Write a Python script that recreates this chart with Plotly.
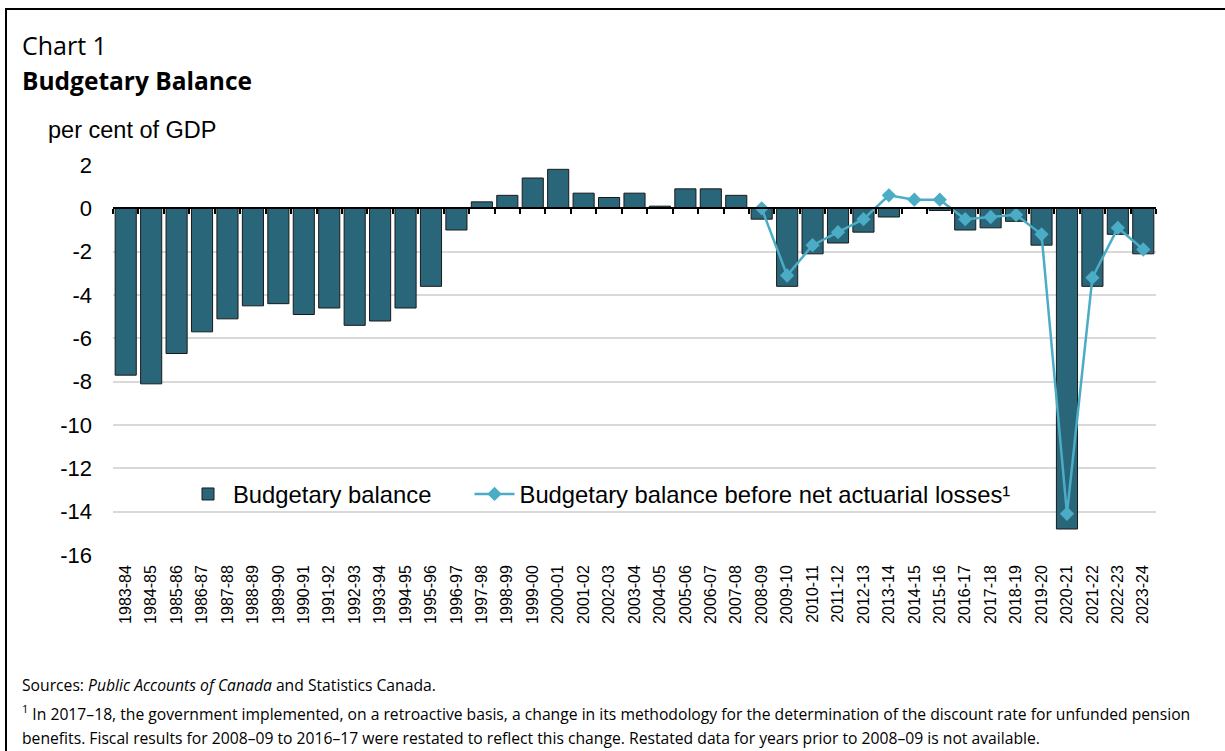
import plotly.graph_objects as go

W, H = 1225, 751
L, R, T, B = 113, 1156, 165, 555  # plot area in reference pixels

years = ["1983-84", "1984-85", "1985-86", "1986-87", "1987-88", "1988-89", "1989-90",
         "1990-91", "1991-92", "1992-93", "1993-94", "1994-95", "1995-96", "1996-97",
         "1997-98", "1998-99", "1999-00", "2000-01", "2001-02", "2002-03", "2003-04",
         "2004-05", "2005-06", "2006-07", "2007-08", "2008-09", "2009-10", "2010-11",
         "2011-12", "2012-13", "2013-14", "2014-15", "2015-16", "2016-17", "2017-18",
         "2018-19", "2019-20", "2020-21", "2021-22", "2022-23", "2023-24"]

budgetary_balance = [-7.7, -8.1, -6.7, -5.7, -5.1, -4.5, -4.4,
                     -4.9, -4.6, -5.4, -5.2, -4.6, -3.6, -1.0,
                     0.3, 0.6, 1.4, 1.8, 0.7, 0.5, 0.7,
                     0.1, 0.9, 0.9, 0.6, -0.5, -3.6, -2.1,
                     -1.6, -1.1, -0.4, 0.0, -0.1, -1.0, -0.9,
                     -0.6, -1.7, -14.8, -3.6, -1.2, -2.1]

balance_before_losses = [None] * 25 + [0.0, -3.1, -1.7, -1.1, -0.5, 0.6, 0.4, 0.4,
                                       -0.5, -0.4, -0.3, -1.2, -14.1, -3.2, -0.9, -1.9]

y_ticks = [2, 0, -2, -4, -6, -8, -10, -12, -14, -16]

BAR_COLOR = "#29667a"
LINE_COLOR = "#4bacc6"
ARIAL = "Liberation Sans, Arial, sans-serif"
SEGOE = "Open Sans, Noto Sans, sans-serif"


def px_x(x):
    return (x - L) / (R - L)


def px_y(y):
    return (B - y) / (B - T)


zero_pos = 16 / 18

fig = go.Figure()
fig.add_trace(go.Bar(
    x=years, y=budgetary_balance, name="Budgetary balance" + "\u00a0" * 5,
    marker=dict(color=BAR_COLOR, line=dict(color="#1a1a1a", width=1)),
))
fig.add_trace(go.Scatter(
    x=years, y=balance_before_losses, xaxis="x2",
    name="Budgetary balance before net actuarial losses¹",
    mode="lines+markers",
    line=dict(color=LINE_COLOR, width=2.5),
    marker=dict(symbol="diamond", size=11, color=LINE_COLOR),
))

xrange = [-0.5, len(years) - 0.5]

fig.update_layout(
    width=W, height=H,
    margin=dict(l=L, r=W - R, t=T, b=H - B),
    paper_bgcolor="white", plot_bgcolor="white",
    bargap=0.17,
    showlegend=True,
    legend=dict(orientation="h", x=px_x(183), y=px_y(494), xanchor="left", yanchor="middle",
                font=dict(family=ARIAL, size=23.8, color="black"),
                bgcolor="rgba(0,0,0,0)", itemwidth=40, traceorder="normal"),
    xaxis=dict(type="category", categoryorder="array", categoryarray=years, range=xrange,
               tickangle=-90, tickfont=dict(family=ARIAL, size=16, color="black"),
               showgrid=False, showline=False, ticks="", ticklabelstandoff=6),
    xaxis2=dict(type="category", categoryorder="array", categoryarray=years, range=xrange,
                overlaying="x", anchor="free", position=zero_pos,
                showticklabels=False, ticks="outside", tickson="boundaries",
                ticklen=5, tickwidth=1.5, tickcolor="black",
                showline=True, linecolor="black", linewidth=2, showgrid=False),
    yaxis=dict(range=[-16, 2], tickvals=y_ticks, ticktext=[str(v) for v in y_ticks],
               tickfont=dict(family=ARIAL, size=22, color="black"),
               showgrid=True, gridcolor="#d9d9d9", gridwidth=1.5,
               zeroline=False, showline=False, ticks="", ticklabelstandoff=20),
)

FOOT = 15.7
annotations = [
    dict(text="Chart 1", x=px_x(20), y=px_y(45), xanchor="left", yanchor="middle",
         font=dict(family=SEGOE, size=25, color="black")),
    dict(text="<b>Budgetary Balance</b>", x=px_x(20), y=px_y(80), xanchor="left", yanchor="middle",
         font=dict(family=SEGOE, size=24.5, color="black")),
    dict(text="per cent of GDP", x=px_x(46), y=px_y(130), xanchor="left", yanchor="middle",
         font=dict(family=ARIAL, size=23.5, color="black")),
    dict(text="Sources: <i>Public Accounts of Canada</i> and Statistics Canada.",
         x=px_x(20), y=px_y(685), xanchor="left", yanchor="middle",
         font=dict(family=SEGOE, size=FOOT, color="black")),
    dict(text="<sup>1</sup> In 2017–18, the government implemented, on a retroactive basis, a change in its methodology for the determination of the discount rate for unfunded pension",
         x=px_x(20), y=px_y(713), xanchor="left", yanchor="middle",
         font=dict(family=SEGOE, size=FOOT, color="black")),
    dict(text="benefits. Fiscal results for 2008–09 to 2016–17 were restated to reflect this change. Restated data for years prior to 2008–09 is not available.",
         x=px_x(20), y=px_y(738), xanchor="left", yanchor="middle",
         font=dict(family=SEGOE, size=FOOT, color="black")),
]
for a in annotations:
    a.update(xref="paper", yref="paper", showarrow=False, align="left")
fig.update_layout(annotations=annotations)

# outer frame: only the top and left edges are visible in the reference
fig.add_shape(type="line", xref="paper", yref="paper",
              x0=px_x(5), x1=px_x(1240), y0=px_y(9), y1=px_y(9),
              line=dict(color="black", width=2), layer="above")
fig.add_shape(type="line", xref="paper", yref="paper",
              x0=px_x(6), x1=px_x(6), y0=px_y(8), y1=px_y(770),
              line=dict(color="black", width=2), layer="above")

fig.write_html("out.html",
               config={"displayModeBar": False},
               post_script="document.body.style.margin='0';"
                           "document.body.style.overflow='hidden';")
